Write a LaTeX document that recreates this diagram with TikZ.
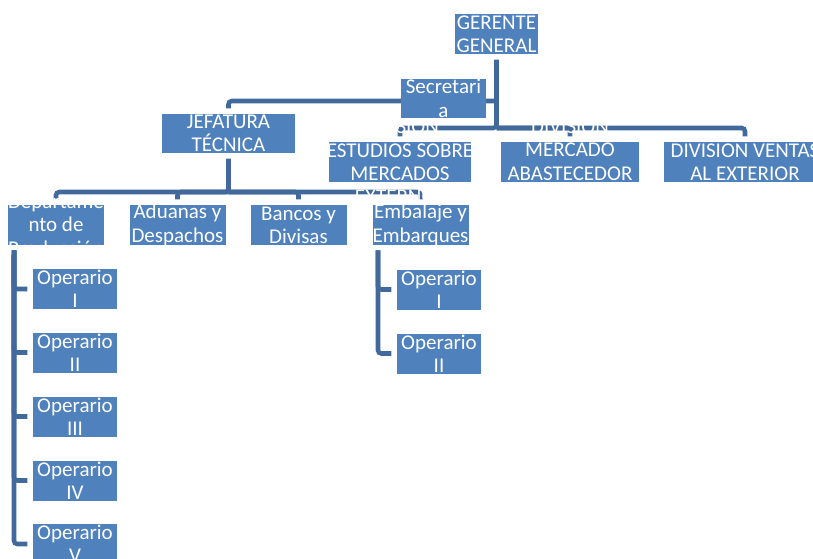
\documentclass[tikz,border=0pt]{standalone}
\usepackage{fontspec}
\setmainfont{Carlito}
\usetikzlibrary{backgrounds}

\definecolor{boxblue}{HTML}{4F81BD}
\definecolor{lineblue}{HTML}{41699B}

\tikzset{
  box/.style={fill=boxblue, inner sep=0pt, minimum height=30pt},
  txt/.style={text=white, align=center, inner sep=0pt,
    font=\fontsize{15.75pt}{17.5pt}\selectfont},
  conn/.style={draw=lineblue, line width=3.4pt, rounded corners=2.5pt,
    shorten >=4pt},
}

\begin{document}
\begin{tikzpicture}[x=0.75pt, y=-0.75pt]
\useasboundingbox (0,0) rectangle (813,558);

% boxes
\node[box, minimum width=62.25pt] (gg) at (496.5,34) {};
\node[box, minimum width=63.75pt, minimum height=29.25pt] (sec) at (443.5,98.5) {};
\node[box, minimum width=99.75pt, minimum height=29.25pt] (jef) at (228.5,133.5) {};
\node[box, minimum width=106.5pt] (est) at (400,162) {};
\node[box, minimum width=103.5pt] (abas) at (570,162) {};
\node[box, minimum width=121.5pt] (ventas) at (745,162) {};
\node[box, minimum width=72pt] (dep) at (56,225) {};
\node[box, minimum width=72pt] (adu) at (177.5,225) {};
\node[box, minimum width=72pt] (ban) at (298.5,225) {};
\node[box, minimum width=72pt] (emb) at (420.5,225) {};
\node[box, minimum width=63pt] (op1) at (75,289) {};
\node[box, minimum width=63pt] (op2) at (75,352.5) {};
\node[box, minimum width=63pt] (op3) at (75,416.5) {};
\node[box, minimum width=63pt] (op4) at (75,480.5) {};
\node[box, minimum width=63pt] (op5) at (75,544) {};
\node[box, minimum width=63pt] (eop1) at (439,289.5) {};
\node[box, minimum width=63pt] (eop2) at (439,353.5) {};

% labels
\node[txt] (gg-t) at (gg) {GERENTE\\GENERAL};
\node[txt] (sec-t) at (sec) {Secretari\\a};
\node[txt] (jef-t) at (jef) {JEFATURA\\TÉCNICA};
\node[txt] (est-t) at (est) {DIVISION\\ESTUDIOS SOBRE\\MERCADOS\\EXTERNOS};
\node[txt] (abas-t) at ([yshift=9pt]abas.center) {DIVISION\\MERCADO\\ABASTECEDOR};
\node[txt] (ventas-t) at (ventas) {DIVISION VENTAS\\AL EXTERIOR};
\node[txt] (dep-t) at (dep) {Departame\\nto de\\Producción};
\node[txt] (adu-t) at (adu) {Aduanas y\\Despachos};
\node[txt] (ban-t) at (ban) {Bancos y\\Divisas};
\node[txt] (emb-t) at (emb) {Embalaje y\\Embarques};
\node[txt] (op1-t) at (op1) {Operario\\I};
\node[txt] (op2-t) at (op2) {Operario\\II};
\node[txt] (op3-t) at (op3) {Operario\\III};
\node[txt] (op4-t) at (op4) {Operario\\IV};
\node[txt] (op5-t) at (op5) {Operario\\V};
\node[txt] (eop1-t) at (eop1) {Operario\\I};
\node[txt] (eop2-t) at (eop2) {Operario\\II};

% connectors
\begin{pgfonlayer}{background}
\fill[white] (0,0) rectangle (813,558);
\coordinate (asst) at (496.5,101);
\coordinate (bus1) at (496.5,128);
\coordinate (bus2) at (228.5,192);
\coordinate (depl) at (14,245);
\coordinate (embl) at (378,245);

\draw[conn, shorten <=4pt] (gg.south) -- (bus1) -| (est.north);
\draw[conn] (bus1) -| (abas.north);
\draw[conn] (bus1) -| (ventas.north);
\draw[conn] (asst) -- (asst -| sec.east);
\draw[conn] (asst) -| (jef.north);

\draw[conn, shorten <=4pt] (jef.south) -- (bus2) -| (dep.north);
\draw[conn] (bus2) -| (adu.north);
\draw[conn] (bus2) -| (ban.north);
\draw[conn] (bus2) -| (emb.north);

\foreach \op in {op1,op2,op3,op4,op5}
  \draw[conn, shorten <=4pt] (depl) |- (\op.west);
\foreach \op in {eop1,eop2}
  \draw[conn, shorten <=4pt] (embl) |- (\op.west);
\end{pgfonlayer}
\end{tikzpicture}
\end{document}
